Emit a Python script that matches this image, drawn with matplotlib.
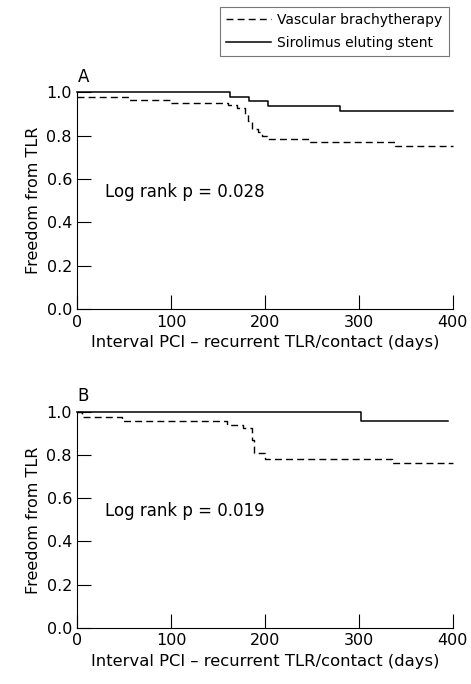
import numpy as np
import matplotlib
matplotlib.use("Agg")
import matplotlib.pyplot as plt

# panel A: step times (days) and survival
a_vbt_t = [0, 55, 100, 160, 170, 178, 182, 186, 192, 197, 202, 248, 338, 400]
a_vbt_s = [0.98, 0.965, 0.95, 0.94, 0.93, 0.90, 0.87, 0.83, 0.815, 0.80, 0.783, 0.771, 0.751, 0.751]
a_ses_t = [0, 163, 183, 203, 280, 400]
a_ses_s = [1.0, 0.98, 0.96, 0.935, 0.915, 0.915]

# panel B
b_vbt_t = [0, 5, 47, 159, 176, 186, 188, 200, 335, 400]
b_vbt_s = [1.0, 0.977, 0.958, 0.94, 0.926, 0.87, 0.81, 0.782, 0.764, 0.764]
b_ses_t = [0, 302, 395]
b_ses_s = [1.0, 0.955, 0.955]

pvals = ["0.028", "0.019"]
panels = ["A", "B"]
xticks = [0, 100, 200, 300, 400]
yticks = [0.0, 0.2, 0.4, 0.6, 0.8, 1.0]

plt.rcParams['font.family'] = ['DejaVu Sans']
fig = plt.figure(figsize=(4.71, 6.84), dpi=100)
axA = fig.add_axes([0.1645, 0.548, 0.797, 0.317])
axB = fig.add_axes([0.1645, 0.082, 0.797, 0.316])

data = [(a_vbt_t, a_vbt_s, a_ses_t, a_ses_s), (b_vbt_t, b_vbt_s, b_ses_t, b_ses_s)]
for ax, (vt, vs, st, ss), p, lab in zip([axA, axB], data, pvals, panels):
    l1, = ax.step(vt, vs, where='post', color='black', lw=1.0, ls=(0, (5, 3)),
                  label='Vascular brachytherapy')
    l2, = ax.step(st, ss, where='post', color='black', lw=1.1,
                  label='Sirolimus eluting stent')
    ax.set_xlim(0, 400)
    ax.set_ylim(0, 1.0)
    ax.set_xticks(xticks)
    ax.set_yticks(yticks)
    ax.set_yticklabels(['%.1f' % v for v in yticks])
    ax.tick_params(direction='in', length=10, width=0.8, labelsize=11.5, pad=4)
    for s in ['top', 'right']:
        ax.spines[s].set_visible(False)
    ax.set_xlabel('Interval PCI – recurrent TLR/contact (days)', fontsize=11.8, labelpad=4)
    ax.set_ylabel('Freedom from TLR', fontsize=11.5, labelpad=4)
    ax.text(29, 0.54, 'Log rank p = ' + p, fontsize=12, va='center', ha='left')
    ax.text(0, 1.03, lab, fontsize=12, ha='left', va='bottom', transform=ax.transData)
    for ln in (l1, l2):
        ln.set_clip_on(False)

h, l = axA.get_legend_handles_labels()
leg = fig.legend(h, l, loc='upper right', bbox_to_anchor=(0.968, 1.0), frameon=True,
                 fancybox=False, edgecolor='#555555', fontsize=10, handlelength=3.2,
                 borderpad=0.45, labelspacing=0.6, handletextpad=0.5)
leg.get_frame().set_linewidth(0.8)

fig.savefig('out.png', dpi=100)
